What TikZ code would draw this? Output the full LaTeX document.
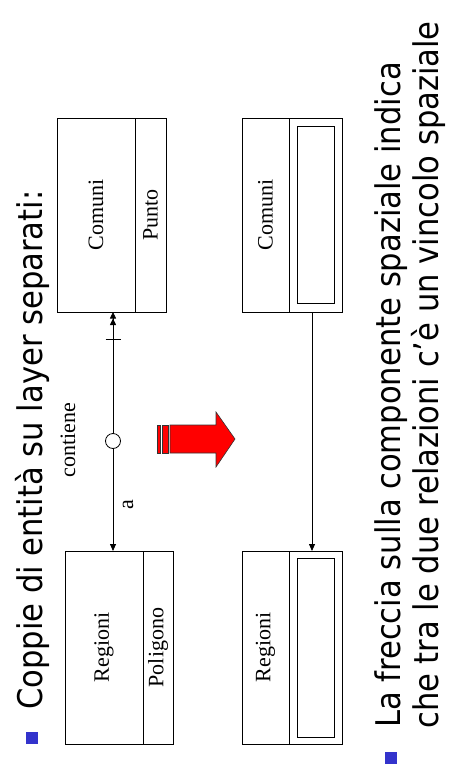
\documentclass[tikz,border=0pt]{standalone}
\usepackage{fontspec}
\setmainfont{Liberation Serif}
\newfontfamily\slidefont{DejaVu Sans Condensed}
\usetikzlibrary{arrows.meta}
\definecolor{bulletblue}{HTML}{3333CC}
\begin{document}
\begin{tikzpicture}[x=1pt,y=-1pt,
  box/.style={draw, line width=0.9pt, inner sep=0, outer sep=0, rectangle},
  lbl/.style={font=\fontsize{22}{24}\selectfont, rotate=90, inner sep=0},
  big/.style={font=\slidefont\fontsize{34}{36}\selectfont, rotate=90, inner sep=0, anchor=base west},
  bul/.style={fill=bulletblue, draw=none, minimum size=12pt, inner sep=0, rectangle},
  conn/.style={line width=0.8pt},
  redarrow/.style={fill=red, draw=black!80, line width=0.6pt}
]
\useasboundingbox (0,0) rectangle (448,776);

% title
\node[bul] (b1) at (31.5,738) {};
\node[big] (title) at (42,710) {Coppie di entità su layer separati:};

% upper diagram
\node[box, minimum width=109pt, minimum height=194pt] (comuni) at (111.5,215) {};
\draw[line width=0.9pt] ([xshift=78pt]comuni.north west) -- ([xshift=78pt]comuni.south west);
\node[lbl] (tcomuni) at (96,215) {Comuni};
\node[lbl] (tpunto) at (150.5,215) {Punto};

\node[box, minimum width=108pt, minimum height=193pt] (regioni) at (119,647.5) {};
\draw[line width=0.9pt] ([xshift=78pt]regioni.north west) -- ([xshift=78pt]regioni.south west);
\node[lbl] (tregioni) at (104,647.5) {Regioni};
\node[lbl] (tpoligono) at (158,647.5) {Poligono};

\node[circle, draw, fill=white, minimum size=15pt, inner sep=0, line width=0.8pt] (circ) at (113,441) {};
\draw[conn, -{Triangle[length=7pt,width=6pt]}] (circ) -- (regioni.north -| circ);
\draw[conn, -{Triangle[length=6.5pt,width=6pt] Triangle[length=6.5pt,width=6pt]}] (circ) -- (comuni.south -| circ);
\coordinate (bar) at (113,339);
\draw[conn] ([xshift=-7.5pt]bar) -- ([xshift=7.5pt]bar);
\node[lbl] (tcontiene) at (68,440) {contiene};
\node[lbl] (ta) at (128,505) {a};

% red arrow
\filldraw[redarrow] (157,425) rectangle (160,453);
\filldraw[redarrow] (162,425) rectangle (168,453);
\filldraw[redarrow] (170,425) -- (216,425) -- (216,412) -- (235,439) -- (216,467) -- (216,453) -- (170,453) -- cycle;

% lower diagram
\node[box, minimum width=100pt, minimum height=194pt] (comuni2) at (292,215) {};
\draw[line width=0.9pt] ([xshift=47pt]comuni2.north west) -- ([xshift=47pt]comuni2.south west);
\node[box, minimum width=37pt, minimum height=177pt] (inner1) at (315.5,214.5) {};
\node[lbl] (tcomuni2) at (265.5,215) {Comuni};

\node[box, minimum width=100pt, minimum height=193pt] (regioni2) at (292,647.5) {};
\draw[line width=0.9pt] ([xshift=47pt]regioni2.north west) -- ([xshift=47pt]regioni2.south west);
\node[box, minimum width=37pt, minimum height=179pt] (inner2) at (315.5,647.5) {};
\node[lbl] (tregioni2) at (265.5,647.5) {Regioni};

\coordinate (c2) at (312,430);
\draw[conn, -{Triangle[length=7pt,width=6pt]}] (comuni2.south -| c2) -- (regioni2.north -| c2);

% bottom text
\node[bul] (b2) at (391,758) {};
\node[big] (line1) at (400,728) {La freccia sulla componente spaziale indica};
\node[big] (line2) at (438,729) {che tra le due relazioni c’è un vincolo spaziale};
\end{tikzpicture}
\end{document}
